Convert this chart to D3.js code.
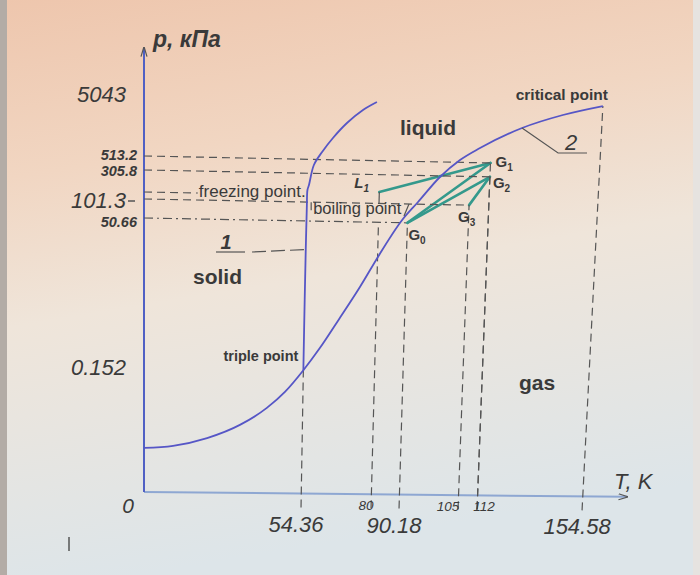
<!DOCTYPE html>
<html>
<head>
<meta charset="utf-8">
<script src="https://cdn.jsdelivr.net/npm/d3@7"></script>
<style>
  body { margin: 0; background: #fff; }
  svg { display: block; }
  text { font-family: "Liberation Sans", Arial, sans-serif; fill: #3a3a3a; }
</style>
</head>
<body>
<svg id="chart" width="700" height="575"></svg>
<script>
// marks on the axes
var tTicks = [0, 54.36, 80, 90.18, 105, 112, 154.58];
var pTicks = [0, 0.152, 50.66, 101.3, 305.8, 513.2, 5043];

// curve 2: sublimation + boiling line, triple point -> critical point
var vaporCurve = [
  [0, 0.054], [10, 0.057], [21.7, 0.067], [33.1, 0.084], [42.1, 0.105], [48.2, 0.125],
  [54.36, 0.152], [60.2, 7.8], [66.8, 17.6], [74.0, 28.6], [80.5, 39.5], [88.3, 57.9],
  [92.6, 116.6], [97.7, 297.5], [102.4, 693], [108.1, 1639], [123.7, 3232], [139.3, 4292],
  [154.58, 5043]
];
// curve 1: melting line from the triple point
var meltCurve = [
  [54.36, 0.152], [54.36, 24], [54.4, 41], [54.45, 49.3], [54.5, 93], [54.6, 187],
  [55.1, 222], [56.7, 430], [59.5, 1090], [63.2, 2170], [68, 3330], [73.5, 4344], [78.3, 4975]
];

var triplePoint = [54.36, 0.152];
var criticalPoint = [154.58, 5043];
var boilingPoint = [90.18, 101.3];

// gas states and the processes between them
var states = [
  {name: "G", sub: "1", t: 112, p: 513.2},
  {name: "G", sub: "2", t: 112, p: 305.8},
  {name: "G", sub: "3", t: 105, p: 101.3},
  {name: "G", sub: "0", t: 90.18, p: 50.66},
  {name: "L", sub: "1", t: 80, p: 182}
];
var processes = [["L1", "G1"], ["G0", "G1"], ["G0", "G2"], ["G3", "G2"]];

var svg = d3.select("#chart");
var defs = svg.append("defs");

// paper background (the reference is a photo of a page)
var grad = defs.append("linearGradient").attr("id", "paper")
  .attr("x1", 0).attr("y1", 0).attr("x2", 0.2).attr("y2", 1);
[["0", "#eec6ad"], ["0.3", "#f1d6c2"], ["0.55", "#efe5da"], ["1", "#dde5e9"]].forEach(function(s){
  grad.append("stop").attr("offset", s[0]).attr("stop-color", s[1]);
});
svg.append("rect").attr("width", 700).attr("height", 575).attr("fill", "url(#paper)");
svg.append("rect").attr("width", 7).attr("height", 575).attr("fill", "#b3aca6");
svg.append("rect").attr("x", 693).attr("width", 7).attr("height", 575).attr("fill", "#e6e3e0");

defs.append("marker").attr("id", "arrow")
  .attr("viewBox", "0 -4 10 8").attr("refX", 9).attr("refY", 0)
  .attr("markerWidth", 10).attr("markerHeight", 8)
  .attr("markerUnits", "userSpaceOnUse").attr("orient", "auto")
  .append("path").attr("d", "M0,-3L10,0L0,3")
  .attr("fill", "none").attr("stroke", "#555").attr("stroke-width", 1.2);

// schematic (non linear) axes
var x = d3.scaleLinear().domain(tTicks).range([144, 301, 371, 399, 458, 477, 582]);
var y = d3.scaleLinear().domain(pTicks).range([492, 368, 218, 199, 170, 156, 96]);

// photo was taken at a slight angle: top is wider, lines drop to the right
function pos(t, p) {
  var xb = x(t), yb = y(p), h = y(0) + 1 - yb;
  var px = x(0) + (xb - x(0)) * (1 + 0.00012 * h);
  return [px, yb + (0.01 + 0.00003 * h) * (px - x(0))];
}
function seg(a, b) { return "M" + a + "L" + b; }
function shift(a, dx, dy) { return [a[0] + dx, a[1] + dy]; }

// axes
var o = pos(0, 0);
svg.append("path").attr("d", seg(o, pos(173, 0)))
  .attr("stroke", "#8ea7d2").attr("stroke-width", 2).attr("marker-end", "url(#arrow)");
svg.append("path").attr("d", seg(o, pos(0, 8700)))
  .attr("stroke", "#5060c4").attr("stroke-width", 2).attr("marker-end", "url(#arrow)");

// process lines
var byId = {};
states.forEach(function(s){ byId[s.name + s.sub] = pos(s.t, s.p); });

var green = svg.append("g").attr("stroke", "#34998c").attr("stroke-width", 2.6)
  .attr("stroke-linecap", "round").attr("fill", "none");
processes.forEach(function(pr){
  green.append("path").attr("d", seg(byId[pr[0]], byId[pr[1]]));
});

// guide lines
var dash = svg.append("g").attr("fill", "none").attr("stroke", "#555")
  .attr("stroke-width", 1.2).attr("stroke-dasharray", "8,5");

states.forEach(function(s){
  if (s.name === "L") return;
  dash.append("path").attr("d", seg(pos(0, s.p), pos(s.t, s.p)))
    .attr("stroke-dasharray", s.p === 50.66 ? "9,4,2,4" : null);
  dash.append("path").attr("d", seg(shift(pos(s.t, 0), 0, 14), pos(s.t, s.p)));
});
dash.append("path").attr("d", seg(shift(pos(80, 0), 0, 14), pos(80, 50.66)));
dash.append("path").attr("d", seg(shift(pos(triplePoint[0], 0), 0, 14), pos(triplePoint[0], triplePoint[1])));
dash.append("path").attr("d", seg(shift(pos(criticalPoint[0], 0), 0, 14), pos(criticalPoint[0], criticalPoint[1])));
// freezing point leader sits just above the 101.3 line
dash.append("path").attr("d", seg(shift(pos(0, 101.3), 0, -7), shift(pos(18, 101.3), 0, -7)));

// L1 tick
svg.append("path").attr("d", seg(byId.L1, pos(80, 101.3)))
  .attr("stroke", "#555").attr("stroke-width", 1.2);

// phase curves
var blue = svg.append("g").attr("fill", "none").attr("stroke", "#5656c6").attr("stroke-width", 1.8);
blue.append("path").attr("d", d3.line().curve(d3.curveMonotoneX)(vaporCurve.map(function(d){ return pos(d[0], d[1]); })));
blue.append("path").attr("d", d3.line().curve(d3.curveCatmullRom.alpha(0.5))(meltCurve.map(function(d){ return pos(d[0], d[1]); })));

// tick labels
var bigP = [0.152, 101.3, 5043];
var pNudge = {50.66: 4, 101.3: 1, 513.2: -1, 305.8: 0.5, 0.152: -1, 5043: -2};
pTicks.forEach(function(p){
  if (p === 0) return;
  var a = pos(0, p), big = bigP.indexOf(p) >= 0;
  svg.append("text")
    .attr("x", a[0] - (big ? 18 : 7)).attr("y", a[1] + pNudge[p]).attr("dy", "0.35em")
    .attr("text-anchor", "end").attr("font-style", "italic")
    .attr("font-weight", big ? null : "bold")
    .attr("font-size", big ? 22 : 14.5)
    .text(p);
});
svg.append("path").attr("d", seg(shift(pos(0, 101.3), -16, 2), shift(pos(0, 101.3), -9, 2)))
  .attr("stroke", "#555").attr("stroke-width", 1.5);

var bigT = [54.36, 90.18, 154.58];
var nudge = {80: -5, 105: -10, 112: 7};
tTicks.forEach(function(t){
  if (t === 0) return;
  var a = pos(t, 0), big = bigT.indexOf(t) >= 0;
  svg.append("text")
    .attr("x", a[0] + (big ? -5 : nudge[t])).attr("y", a[1] + (big ? 38 : 16))
    .attr("text-anchor", "middle").attr("font-style", "italic")
    .attr("font-size", big ? 22 : 13.5)
    .text(t);
});
svg.append("text").attr("x", o[0] - 16).attr("y", o[1] + 21)
  .attr("text-anchor", "middle").attr("font-style", "italic").attr("font-size", 21).text("0");

// axis titles
svg.append("text").attr("x", 153).attr("y", 47).attr("font-size", 23)
  .attr("font-style", "italic").attr("font-weight", "bold").text("p, кПа");
svg.append("text").attr("x", 614).attr("y", 489).attr("font-size", 22)
  .attr("font-style", "italic").text("T, K");

// state labels
var labelOff = {G1: [5, 4], G2: [3, 11], G3: [-11, 17], G0: [1, 17], L1: [-25, -4]};
states.forEach(function(s){
  var id = s.name + s.sub, a = byId[id];
  var t = svg.append("text").attr("x", a[0] + labelOff[id][0]).attr("y", a[1] + labelOff[id][1])
    .attr("font-size", 15).attr("font-weight", "bold")
    .attr("font-style", s.name === "L" ? "italic" : null);
  t.append("tspan").text(s.name);
  t.append("tspan").attr("font-size", 10).attr("dy", 4).text(s.sub);
});

// region labels
[["liquid", 400, 135], ["solid", 193, 284], ["gas", 519, 390]].forEach(function(r){
  svg.append("text").attr("x", r[1]).attr("y", r[2]).attr("font-size", 21)
    .attr("font-weight", "bold").text(r[0]);
});

// point labels
var cp = pos(criticalPoint[0], criticalPoint[1]);
svg.append("text").attr("x", cp[0] + 5).attr("y", cp[1] - 6).attr("text-anchor", "end")
  .attr("font-size", 15.5).attr("font-weight", "bold").text("critical point");
var tp = pos(triplePoint[0], triplePoint[1]);
svg.append("text").attr("x", tp[0] - 5).attr("y", tp[1] - 9).attr("text-anchor", "end")
  .attr("font-size", 14.5).attr("font-weight", "bold").text("triple point");

var fp = pos(18, 101.3);
svg.append("text").attr("x", fp[0] + 1).attr("y", fp[1] - 3).attr("font-size", 17)
  .text("freezing point.");

var bl = pos(56, 101.3);
svg.append("text").attr("x", bl[0] + 2).attr("y", bl[1] + 12).attr("font-size", 16.5)
  .text("boiling point");
svg.append("path").attr("d", seg(bl, shift(bl, 0, 8)))
  .attr("stroke", "#555").attr("stroke-width", 1.2);
var bp = pos(boilingPoint[0], boilingPoint[1]);
svg.append("path").attr("d", seg(shift(bp, -4, 12), shift(bp, 1, 0)))
  .attr("stroke", "#555").attr("stroke-width", 1.2);

// curve numbers with leaders
var lead = svg.append("g").attr("fill", "none").attr("stroke", "#555").attr("stroke-width", 1.2);
var m1 = pos(54.4, 41);
lead.append("path").attr("d", seg([216, 252], [245, 252]));
lead.append("path").attr("d", seg([252, 252], m1)).attr("stroke-dasharray", "14,5");
svg.append("text").attr("x", 226).attr("y", 249).attr("text-anchor", "middle")
  .attr("font-size", 20).attr("font-style", "italic").attr("font-weight", "bold").text("1");

var m2 = pos(123.7, 3232);
lead.append("path").attr("d", "M" + m2 + "L" + shift(m2, 36, 25) + "L" + shift(m2, 65, 25));
svg.append("text").attr("x", m2[0] + 49).attr("y", m2[1] + 22).attr("text-anchor", "middle")
  .attr("font-size", 22).attr("font-style", "italic").text("2");

// cursor mark in the photo
svg.append("path").attr("d", seg([69, 537], [69, 551])).attr("stroke", "#555").attr("stroke-width", 1.5);
</script>
</body>
</html>
